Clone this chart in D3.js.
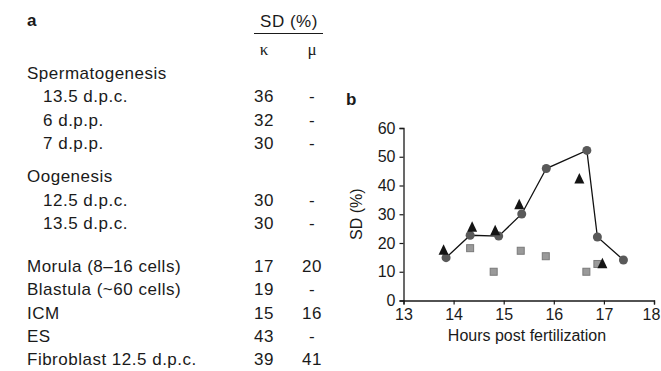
<!DOCTYPE html>
<html>
<head>
<meta charset="utf-8">
<script src="https://cdn.jsdelivr.net/npm/d3@7"></script>
<style>
  body { margin: 0; background: #fff; }
  svg { display: block; }
  text { font-family: "Liberation Sans", Arial, Helvetica, sans-serif; fill: #1a1a1a; }
</style>
</head>
<body>
<svg width="661" height="371"></svg>
<script>
// panel a: table of SD (%) values
var rowLabels = ["Spermatogenesis", "13.5 d.p.c.", "6 d.p.p.", "7 d.p.p.",
  "Oogenesis", "12.5 d.p.c.", "13.5 d.p.c.",
  "Morula (8\u201316 cells)", "Blastula (~60 cells)", "ICM", "ES", "Fibroblast 12.5 d.p.c."];
var rowGroup = [0, 0, 0, 0, 1, 1, 1, 2, 2, 2, 2, 2];
var rowIndent = [false, true, true, true, false, true, true, false, false, false, false, false];
var kappa = ["", "36", "32", "30", "", "30", "30", "17", "19", "15", "43", "39"];
var mu = ["", "-", "-", "-", "", "-", "-", "20", "-", "16", "-", "41"];

// panel b: SD (%) vs hours post fertilization
var circleHours = [13.85, 14.33, 14.9, 15.36, 15.85, 16.66, 16.87, 17.39];
var circleSD = [14.9, 22.7, 22.4, 30.1, 45.9, 52.2, 22.1, 14.1];
var triHours = [13.8, 14.37, 14.83, 15.31, 16.51, 16.97];
var triSD = [17.3, 25.3, 24.1, 33.1, 42.1, 12.6];
var sqHours = [14.33, 14.8, 15.34, 15.84, 16.65, 16.87];
var sqSD = [18.2, 10.0, 17.3, 15.4, 10.0, 12.7];
var xTicks = [13, 14, 15, 16, 17, 18];
var yTicks = [0, 10, 20, 30, 40, 50, 60];

var svg = d3.select("svg");
var fs = 16;   // chart text
var tfs = 17;  // table text

// ---- table ----
var ta = svg.append("g");
ta.append("text").attr("x", 27).attr("y", 26).text("a")
  .style("font-weight", "bold").style("font-size", "17px");
var colK = 264, colM = 312;
ta.append("text").attr("x", 289).attr("y", 26.5).attr("text-anchor", "middle")
  .style("font-size", tfs + "px").style("letter-spacing", "0.5px").text("SD (%)");
ta.append("line").attr("x1", 254).attr("x2", 323).attr("y1", 33.5).attr("y2", 33.5)
  .style("stroke", "#1a1a1a").style("stroke-width", 1.2);
ta.append("text").attr("x", colK).attr("y", 55).attr("text-anchor", "middle")
  .style("font-family", "'Liberation Serif', 'Times New Roman', serif").style("font-size", "17px").text("\u03ba");
ta.append("text").attr("x", colM).attr("y", 55).attr("text-anchor", "middle")
  .style("font-family", "'Liberation Serif', 'Times New Roman', serif").style("font-size", "17px").text("\u03bc");

var groupGap = [0, 10, 30];
var rowY = function(i) { return 79 + i * 23.3 + groupGap[rowGroup[i]]; };
var rows = ta.selectAll("g.row").data(rowLabels).enter().append("g").attr("class", "row")
  .style("font-size", tfs + "px").style("letter-spacing", "0.5px");
rows.append("text")
  .attr("x", function(d, i) { return rowIndent[i] ? 43 : 27; })
  .attr("y", function(d, i) { return rowY(i); })
  .text(function(d) { return d; });
rows.append("text")
  .attr("x", colK).attr("y", function(d, i) { return rowY(i); })
  .attr("text-anchor", "middle")
  .text(function(d, i) { return kappa[i]; });
rows.append("text")
  .attr("x", colM).attr("y", function(d, i) { return rowY(i); })
  .attr("text-anchor", "middle")
  .text(function(d, i) { return mu[i]; });

// ---- chart ----
var x = d3.scaleLinear().domain([13, 18]).range([403.5, 654]);
var y = d3.scaleLinear().domain([0, 60]).range([300.5, 128]);

svg.append("text").attr("x", 346).attr("y", 105).text("b")
  .style("font-weight", "bold").style("font-size", "17px");

var xAxis = svg.append("g").attr("transform", "translate(0,300.5)")
  .call(d3.axisBottom(x).tickValues(xTicks).tickSize(4).tickPadding(4).tickFormat(d3.format("d")));
var yAxis = svg.append("g").attr("transform", "translate(403.5,0)")
  .call(d3.axisLeft(y).tickValues(yTicks).tickSize(4).tickPadding(4).tickFormat(d3.format("d")));
[xAxis, yAxis].forEach(function(ax) {
  ax.select(".domain").style("stroke", "#1a1a1a").style("stroke-width", 1.3);
  ax.selectAll(".tick line").style("stroke", "#1a1a1a").style("stroke-width", 1.2);
  ax.selectAll(".tick text").style("font-size", fs + "px")
    .style("font-family", "'Liberation Sans', Arial, sans-serif").style("fill", "#1a1a1a");
});
// last label sits at the picture's edge
xAxis.selectAll(".tick text").filter(function(d) { return d === 18; }).attr("dx", -3);

svg.append("text").attr("x", 527).attr("y", 341).attr("text-anchor", "middle")
  .style("font-size", fs + "px").text("Hours post fertilization");
svg.append("text").attr("transform", "translate(362," + (y(30)) + ") rotate(-90)")
  .attr("text-anchor", "middle").style("font-size", fs + "px").text("SD (%)");

var pts = circleHours.map(function(h, i) { return [h, circleSD[i]]; });
var line = d3.line().x(function(d) { return x(d[0]); }).y(function(d) { return y(d[1]); });
svg.append("path").datum(pts).attr("d", line)
  .style("fill", "none").style("stroke", "#111").style("stroke-width", 1.3);

svg.append("g").selectAll("rect").data(sqHours).enter().append("rect")
  .attr("x", function(d) { return x(d) - 3.5; })
  .attr("y", function(d, i) { return y(sqSD[i]) - 3.5; })
  .attr("width", 7).attr("height", 7)
  .style("fill", "#9a9a9a").style("stroke", "#7a7a7a").style("stroke-width", 1);

svg.append("g").selectAll("circle").data(pts).enter().append("circle")
  .attr("cx", function(d) { return x(d[0]); })
  .attr("cy", function(d) { return y(d[1]); })
  .attr("r", 4.5).style("fill", "#595959");

var tri = function(cx, cy) {
  return "M" + cx + "," + (cy - 6.5) + "L" + (cx + 5) + "," + (cy + 4) + "L" + (cx - 5) + "," + (cy + 4) + "Z";
};
svg.append("g").selectAll("path").data(triHours).enter().append("path")
  .attr("d", function(d, i) { return tri(x(d), y(triSD[i])); })
  .style("fill", "#141414");
</script>
</body>
</html>
